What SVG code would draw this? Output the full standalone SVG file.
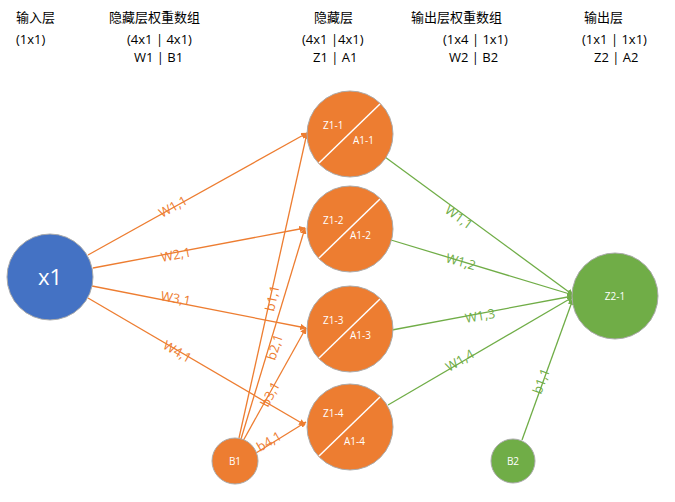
<svg xmlns="http://www.w3.org/2000/svg" width="675" height="502" viewBox="0 0 675 502">
<defs>
<marker id="ao" viewBox="0 0 10 10" refX="9" refY="5" markerWidth="5" markerHeight="5" orient="auto"><path d="M0,0L10,5L0,10z" fill="#ED7D31"/></marker>
<marker id="ag" viewBox="0 0 10 10" refX="9" refY="5" markerWidth="5" markerHeight="5" orient="auto"><path d="M0,0L10,5L0,10z" fill="#70AD47"/></marker>
</defs>
<style>
text{font-family:"Open Sans","Noto Sans CJK SC",sans-serif}
.h{font-size:13px;fill:#000}
.lo{fill:#ED7D31;font-size:13px}
.lg{fill:#70AD47;font-size:13px}
.o{stroke:#ED7D31;stroke-width:1.3;fill:none;marker-end:url(#ao)}
.g{stroke:#70AD47;stroke-width:1.3;fill:none;marker-end:url(#ag)}
.w{fill:#fff;font-size:10px}
.hn{fill:#ED7D31;stroke:#aaa;stroke-width:1}
</style>
<rect width="675" height="502" fill="#fff"/>
<g class="h">
<text x="16" y="22">输入层</text><text x="16" y="44">(1x1)</text>
<text x="109" y="22">隐藏层权重数组</text><text x="127" y="44">(4x1 | 4x1)</text><text x="134" y="62">W1 | B1</text>
<text x="314" y="22">隐藏层</text><text x="302" y="44">(4x1 |4x1)</text><text x="313" y="62">Z1 | A1</text>
<text x="411" y="22">输出层权重数组</text><text x="443" y="44">(1x4 | 1x1)</text><text x="449" y="62">W2 | B2</text>
<text x="584" y="22">输出层</text><text x="582" y="44">(1x1 | 1x1)</text><text x="594" y="62">Z2 | A2</text>
</g>
<g id="connectors">
<path class="o" d="M88,255L307,133"/>
<path class="o" d="M93,268L305,228"/>
<path class="o" d="M92,286L306,328"/>
<path class="o" d="M88,298L305,425"/>
<path class="o" d="M239,438L307,133"/>
<path class="o" d="M241,439L305,228"/>
<path class="o" d="M243,441L306,328"/>
<path class="o" d="M256,453L306,422"/>
<path class="g" d="M385,157L573,295"/>
<path class="g" d="M391,240L573,295"/>
<path class="g" d="M392,330L573,296"/>
<path class="g" d="M388,405L573,297"/>
<path class="g" d="M522,440L573,299"/>
<text class="lo" transform="translate(162,218) rotate(-29)">W1,1</text>
<text class="lo" transform="translate(162,262) rotate(-11)">W2,1</text>
<text class="lo" transform="translate(160,300) rotate(11)">W3,1</text>
<text class="lo" transform="translate(162,348) rotate(30)">W4,1</text>
<text class="lo" transform="translate(274,312) rotate(-78)">b1,1</text>
<text class="lo" transform="translate(275,361) rotate(-72)">b2,1</text>
<text class="lo" transform="translate(268,408) rotate(-62)">b3,1</text>
<text class="lo" transform="translate(260,452) rotate(-30)">b4,1</text>
<text class="lg" transform="translate(444,212) rotate(36)">W1,1</text>
<text class="lg" transform="translate(445,262) rotate(16)">W1,2</text>
<text class="lg" transform="translate(466,323) rotate(-10)">W1,3</text>
<text class="lg" transform="translate(449,372) rotate(-30)">W1,4</text>
<text class="lg" transform="translate(541,395) rotate(-70)">b1,1</text>
</g>
<g id="x1"><circle cx="50" cy="277" r="43" fill="#4472C4" stroke="#aaa"/><text x="50" y="285" text-anchor="middle" fill="#fff" font-size="22">x1</text></g>
<g id="h1"><circle class="hn" cx="350" cy="134" r="43"/><path d="M319,163L380,104" stroke="#fff" stroke-width="1.5"/><text class="w" x="323" y="129">Z1-1</text><text class="w" x="353" y="144">A1-1</text></g>
<g id="h2"><circle class="hn" cx="350" cy="229" r="43"/><path d="M319,258L380,199" stroke="#fff" stroke-width="1.5"/><text class="w" x="323" y="224">Z1-2</text><text class="w" x="350" y="239">A1-2</text></g>
<g id="h3"><circle class="hn" cx="350" cy="329" r="43"/><path d="M319,358L380,299" stroke="#fff" stroke-width="1.5"/><text class="w" x="323" y="324">Z1-3</text><text class="w" x="350" y="339">A1-3</text></g>
<g id="h4"><circle class="hn" cx="350" cy="427" r="43"/><path d="M319,456L380,397" stroke="#fff" stroke-width="1.5"/><text class="w" x="323" y="417">Z1-4</text><text class="w" x="344" y="445">A1-4</text></g>
<g id="z2"><circle cx="615" cy="296" r="43" fill="#70AD47" stroke="#aaa"/><text class="w" x="615" y="300" text-anchor="middle">Z2-1</text></g>
<g id="b1"><circle cx="235" cy="461" r="23" fill="#ED7D31" stroke="#aaa"/><text class="w" x="235" y="465" text-anchor="middle">B1</text></g>
<g id="b2"><circle cx="513" cy="461" r="22" fill="#70AD47" stroke="#aaa"/><text class="w" x="513" y="465" text-anchor="middle">B2</text></g>
</svg>
